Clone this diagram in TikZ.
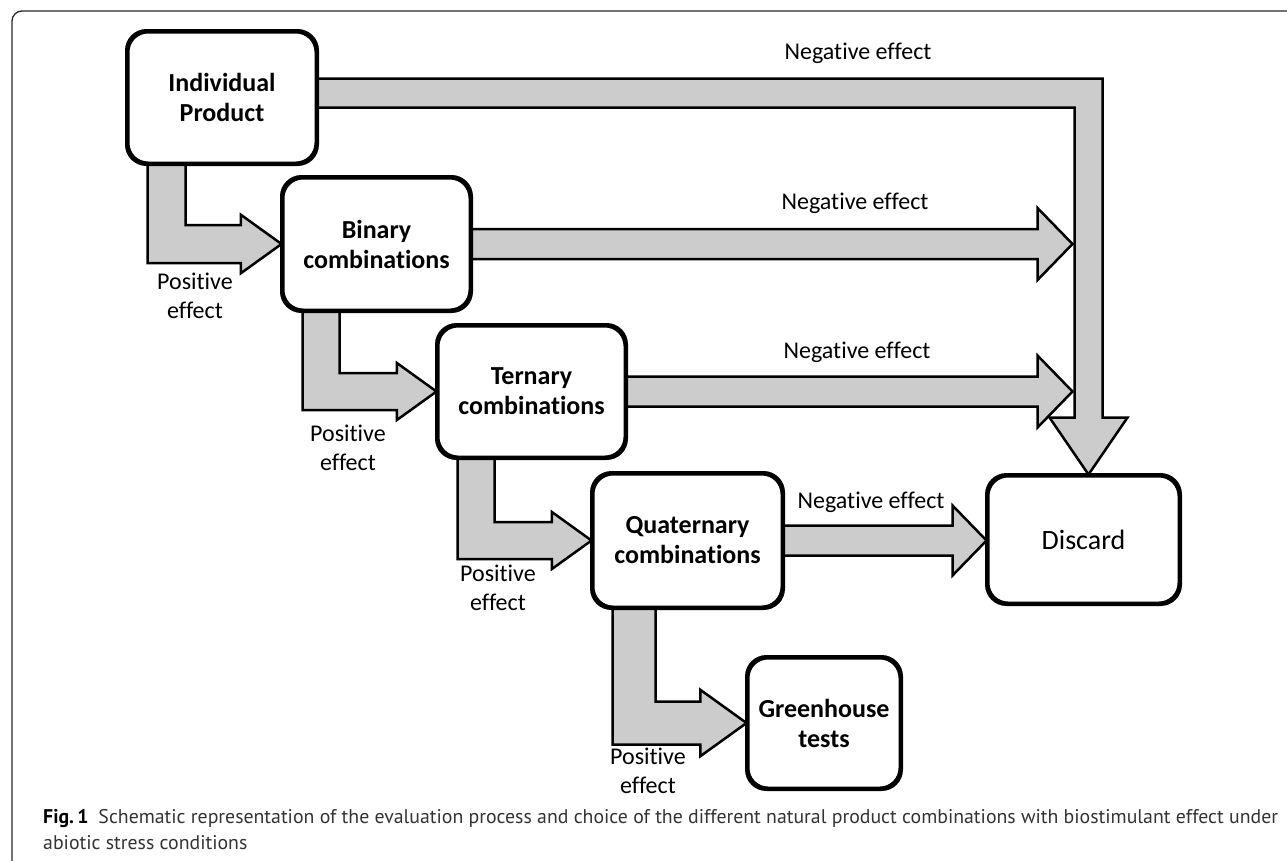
\documentclass[tikz,border=0pt]{standalone}
\usepackage{fontspec}
\setmainfont{Carlito}[Ligatures=NoCommon]
\newfontfamily\capfont{PT Sans}
\usetikzlibrary{calc}

\begin{document}
\begin{tikzpicture}[x=1pt,y=-1pt,
  stepbox/.style={draw, line width=3pt, rounded corners=20pt, fill=white,
    align=center, inner sep=0pt, font=\bfseries\fontsize{26}{30}\selectfont},
  blockarrow/.style={draw, line width=2.5pt, fill=black!20, line join=miter},
  lbl/.style={align=center, inner sep=0pt, font=\fontsize{24}{29}\selectfont}]
\useasboundingbox (0,0) rectangle (1287,860);

% frame
\draw[line width=1.3pt, black!85, rounded corners=10pt] (12,11) rectangle (1310,890);

% boxes
\node[stepbox, minimum width=188, minimum height=131] (ind) at (222,97.5) {Individual\\Product};
\node[stepbox, minimum width=187, minimum height=132] (bin) at (376.5,244) {Binary\\combinations};
\node[stepbox, minimum width=187, minimum height=131] (ter) at (531.5,391.5) {Ternary\\combinations};
\node[stepbox, minimum width=189, minimum height=133] (qua) at (687.5,540.5) {Quaternary\\combinations};
\node[stepbox, minimum width=152, minimum height=130] (gre) at (824,723) {Greenhouse\\tests};
\node[stepbox, minimum width=191, minimum height=127, font=\fontsize{28}{32}\selectfont] (disc) at (1083.5,539.5) {Discard};

% negative effect: big arrow into Discard
\coordinate (dtip) at ($(disc.north)+(5,0)$);
\coordinate (rx) at ($(dtip)+(14,0)$);
\coordinate (lx) at ($(dtip)+(-14,0)$);
\coordinate (hb) at ($(dtip)+(0,-57)$);
\coordinate (ttop) at ($(ind.east)+(0,-19)$);
\coordinate (tbot) at ($(ind.east)+(0,10)$);
\draw[blockarrow] (ttop) -- (ttop -| rx) -- (rx |- hb) -- ($(hb)+(39,0)$) -- (dtip)
  -- ($(hb)+(-39,0)$) -- (lx |- hb) -- (tbot -| lx) -- (tbot) -- cycle;

% negative effect: binary and ternary
\foreach \a in {bin,ter}{
  \draw[blockarrow] ($(\a.east)+(0,-15)$) -- ($(\a.east -| lx)+(-37,-15)$)
    -- ($(\a.east -| lx)+(-37,-36)$) -- ($(\a.east -| lx)+(-2,0)$)
    -- ($(\a.east -| lx)+(-37,36)$) -- ($(\a.east -| lx)+(-37,15)$)
    -- ($(\a.east)+(0,15)$) -- cycle;
}

% negative effect: quaternary
\draw[blockarrow] ($(qua.east)+(0,-15)$) -- ($(qua.east -| disc.west)+(-34,-15)$)
  -- ($(qua.east -| disc.west)+(-34,-35)$) -- (qua.east -| disc.west)
  -- ($(qua.east -| disc.west)+(-34,35)$) -- ($(qua.east -| disc.west)+(-34,15)$)
  -- ($(qua.east)+(0,15)$) -- cycle;

% positive effect arrows
\foreach \a/\b/\w in {ind/bin/38, bin/ter/37, ter/qua/37, qua/gre/43}{
  \coordinate (pl) at ($(\a.south west)+(21,0)$);
  \coordinate (pr) at ($(pl)+(\w,0)$);
  \coordinate (lo) at ($(\b.west)+(0,0.5*\w)$);
  \coordinate (hi) at ($(\b.west)+(0,-0.5*\w)$);
  \draw[blockarrow] (pl) -- (pl |- lo) -- ($(\b.west)+(-1.07*\w,0.5*\w)$)
    -- ($(\b.west)+(-1.07*\w,0.77*\w)$) -- (\b.west)
    -- ($(\b.west)+(-1.07*\w,-0.77*\w)$) -- ($(\b.west)+(-1.07*\w,-0.5*\w)$)
    -- (pr |- hi) -- (pr) -- cycle;
}

% redraw boxes on top
\foreach \n in {ind,bin,ter,qua,gre,disc}{
  \draw[line width=3pt, rounded corners=20pt] (\n.north west) rectangle (\n.south east);
}

% labels
\node[lbl] (n1) at (858,53) {Negative effect};
\node[lbl] (n2) at (855,203) {Negative effect};
\node[lbl] (n3) at (857,352) {Negative effect};
\node[lbl] (n4) at (871,502) {Negative effect};
\node[lbl] (p1) at (195,295.5) {Positive\\effect};
\node[lbl] (p2) at (348,447.5) {Positive\\effect};
\node[lbl] (p3) at (498,588) {Positive\\effect};
\node[lbl] (p4) at (648,771) {Positive\\effect};

% caption
\node[anchor=base west, inner sep=0pt, text=black!80, font=\capfont\fontsize{19.8}{26}\selectfont] (cap1) at (43,823)
  {\textbf{\color{black}Fig.\,1}\enspace Schematic representation of the evaluation process and choice of the different natural product combinations with biostimulant effect under};
\node[anchor=base west, inner sep=0pt, text=black!80, font=\capfont\fontsize{19.8}{26}\selectfont] (cap2) at (43,849)
  {abiotic stress conditions};
\end{tikzpicture}
\end{document}
